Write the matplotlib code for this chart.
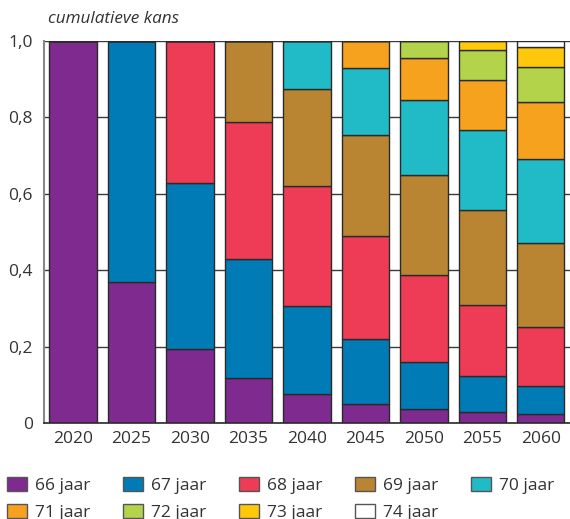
import matplotlib.pyplot as plt
from matplotlib.patches import Patch
from matplotlib.ticker import FuncFormatter

# jaren op de x-as
years = ['2020', '2025', '2030', '2035', '2040', '2045', '2050', '2055', '2060']

# kans per pensioenleeftijd (aandeel van de staaf)
age_66 = [1.000, 0.369, 0.194, 0.118, 0.076, 0.050, 0.037, 0.029, 0.024]
age_67 = [0.000, 0.631, 0.434, 0.311, 0.230, 0.170, 0.123, 0.094, 0.073]
age_68 = [0.000, 0.000, 0.372, 0.359, 0.314, 0.270, 0.227, 0.186, 0.154]
age_69 = [0.000, 0.000, 0.000, 0.212, 0.254, 0.264, 0.263, 0.249, 0.220]
age_70 = [0.000, 0.000, 0.000, 0.000, 0.126, 0.175, 0.195, 0.209, 0.220]
age_71 = [0.000, 0.000, 0.000, 0.000, 0.000, 0.071, 0.110, 0.131, 0.150]
age_72 = [0.000, 0.000, 0.000, 0.000, 0.000, 0.000, 0.045, 0.078, 0.091]
age_73 = [0.000, 0.000, 0.000, 0.000, 0.000, 0.000, 0.000, 0.024, 0.052]
age_74 = [0.000, 0.000, 0.000, 0.000, 0.000, 0.000, 0.000, 0.000, 0.016]

series = [age_66, age_67, age_68, age_69, age_70, age_71, age_72, age_73, age_74]
labels = ['66 jaar', '67 jaar', '68 jaar', '69 jaar', '70 jaar',
          '71 jaar', '72 jaar', '73 jaar', '74 jaar']
colors = ['#7f2a8e', '#007bb6', '#ee3b56', '#b98533', '#21bbc7',
          '#f7a21f', '#b2d34a', '#ffc80a', '#ffffff']

plt.rcParams['font.family'] = ['Open Sans', 'DejaVu Sans']
text_col = '#333333'

fig = plt.figure(figsize=(5.7, 5.19), dpi=100)
ax = fig.add_axes([0.077, 0.185, 0.923, 0.736])

x = list(range(len(years)))
bottom = [0.0] * len(years)
for vals, col in zip(series, colors):
    ax.bar(x, vals, bottom=bottom, width=0.81, color=col,
           edgecolor='#2a2a2a', linewidth=1.0, zorder=3)
    bottom = [b + v for b, v in zip(bottom, vals)]

ax.set_xlim(-0.5, 8.5)
ax.set_ylim(0, 1.0)
ax.set_xticks(x)
ax.set_xticklabels(years)
ax.set_yticks([0, 0.2, 0.4, 0.6, 0.8, 1.0])
ax.yaxis.set_major_formatter(FuncFormatter(
    lambda v, p: '0' if v == 0 else f'{v:.1f}'.replace('.', ',')))
ax.grid(axis='y', color='#3a3a3a', linewidth=1.0, zorder=0)
ax.tick_params(axis='both', length=0, labelsize=12.5, colors=text_col, pad=6)
ax.tick_params(axis='y', pad=8)

for s in ['top', 'right']:
    ax.spines[s].set_visible(False)
ax.spines['left'].set_color('#888888')
ax.spines['left'].set_linewidth(1.5)
ax.spines['bottom'].set_color('#2a2a2a')
ax.spines['bottom'].set_linewidth(1.2)
ax.spines['bottom'].set_zorder(4)

fig.text(0.084, 0.963, 'cumulatieve kans', style='italic', fontsize=12.3,
         color=text_col, ha='left', va='center')

# legenda rij voor rij vullen (matplotlib vult per kolom)
order = [0, 5, 1, 6, 2, 7, 3, 8, 4]
handles = [Patch(facecolor=colors[i], edgecolor='#555555', linewidth=1.0) for i in order]
fig.legend(handles, [labels[i] for i in order], loc='upper left',
           bbox_to_anchor=(0.006, 0.087), ncol=5, frameon=False, fontsize=12.5,
           handlelength=1.15, handleheight=0.8, handletextpad=0.45,
           columnspacing=1.9, labelspacing=0.6, borderaxespad=0.0,
           borderpad=0.2, labelcolor=text_col)

fig.savefig('out.png', dpi=100)
